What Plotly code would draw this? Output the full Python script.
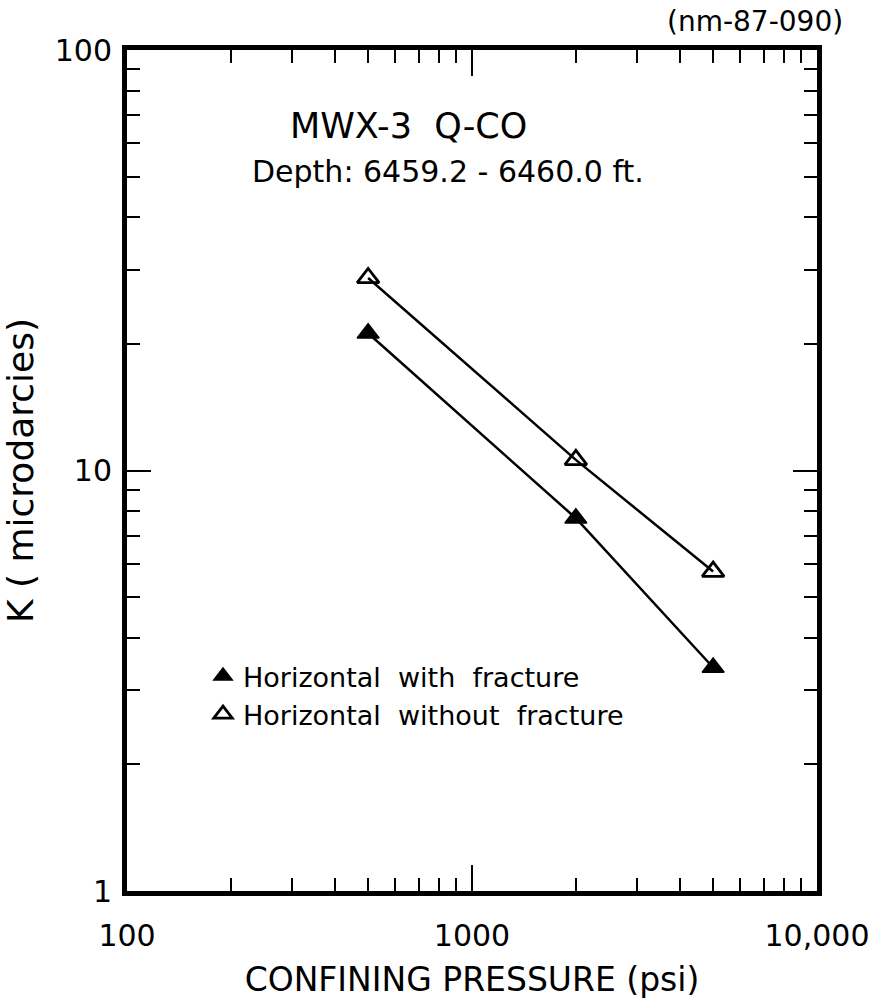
import plotly.graph_objects as go

# Confining pressure (psi) and permeability (microdarcies)
pressure = [500, 2000, 5000]
k_with_fracture = [21.2, 7.7, 3.4]
k_without_fracture = [28.7, 10.6, 5.75]

x_major = [100, 1000, 10000]
x_major_text = ["100", "1000", "10,000"]
x_minor = [200, 300, 400, 500, 600, 700, 800, 900,
           2000, 3000, 4000, 5000, 6000, 7000, 8000, 9000]
y_major = [1, 10, 100]
y_major_text = ["1", "10", "100"]
y_minor = [2, 3, 4, 5, 6, 7, 8, 9, 20, 30, 40, 50, 60, 70, 80, 90]

FONT = "DejaVu Sans, Liberation Sans, sans-serif"
NB = "\u00a0"

fig = go.Figure()

# fitted lines through each series
for ks in (k_without_fracture, k_with_fracture):
    fig.add_trace(go.Scatter(
        x=pressure, y=ks, mode="lines",
        line=dict(color="black", width=2.5),
        showlegend=False, hoverinfo="skip"))

fig.add_trace(go.Scatter(
    x=pressure, y=k_with_fracture, mode="markers",
    name=f"Horizontal{NB*2}with{NB*2}fracture",
    marker=dict(symbol="triangle-up", size=19, color="black",
                line=dict(color="black", width=1.5))))
fig.add_trace(go.Scatter(
    x=pressure, y=k_without_fracture, mode="markers",
    name=f"Horizontal{NB*2}without{NB*2}fracture",
    marker=dict(symbol="triangle-up-open", size=19, color="black",
                line=dict(color="black", width=2.8))))

axis_common = dict(
    type="log", showgrid=False, zeroline=False, automargin=False,
    showline=True, linecolor="black", linewidth=5, mirror="ticks",
    ticks="inside", tickcolor="black", tickwidth=2,
    ticklabeloverflow="allow",
    tickfont=dict(family=FONT, size=30, color="black"),
)

fig.update_xaxes(
    **axis_common,
    range=[2, 4], tickmode="array", tickvals=x_major, ticktext=x_major_text,
    ticklen=26, ticklabelstandoff=14,
    minor=dict(tickmode="array", tickvals=x_minor, ticks="inside",
               ticklen=13, tickwidth=2, tickcolor="black", showgrid=False),
    title=dict(text="CONFINING PRESSURE (psi)", standoff=18,
               font=dict(family=FONT, size=33, color="black")),
)
fig.update_yaxes(
    **axis_common,
    range=[0, 2], tickmode="array", tickvals=y_major, ticktext=y_major_text,
    ticklen=24, ticklabelstandoff=4,
    minor=dict(tickmode="array", tickvals=y_minor, ticks="inside",
               ticklen=13, tickwidth=2, tickcolor="black", showgrid=False),
    title=dict(text="K ( microdarcies)", standoff=22,
               font=dict(family=FONT, size=36, color="black")),
)

L, R, T, B = 127, 52, 50, 108
W, H = 869, 999
pw, ph = W - L - R, H - T - B


def px(x, y):
    """Figure pixel position -> paper coordinates of the plot area."""
    return (x - L) / pw, (H - B - y) / ph


annotations = []
ax, ay = px(408, 126)
annotations.append(dict(text="MWX-3  Q-CO", x=ax, y=ay, xref="paper", yref="paper",
                        showarrow=False, xanchor="center", yanchor="middle",
                        font=dict(family=FONT, size=35, color="black")))
ax, ay = px(250, 172)
annotations.append(dict(text="Depth: 6459.2 - 6460.0 ft.", x=ax, y=ay,
                        xref="paper", yref="paper", showarrow=False,
                        xanchor="left", yanchor="middle",
                        font=dict(family=FONT, size=30, color="black")))
ax, ay = px(845, 22)
annotations.append(dict(text="(nm-87-090)", x=ax, y=ay,
                        xref="paper", yref="paper", showarrow=False,
                        xanchor="right", yanchor="middle",
                        font=dict(family=FONT, size=28, color="black")))

lx, ly = px(203, 652)
fig.update_layout(
    width=W, height=H,
    margin=dict(l=L, r=R, t=T, b=B, autoexpand=False),
    paper_bgcolor="white", plot_bgcolor="white",
    font=dict(family=FONT, color="black"),
    annotations=annotations,
    legend=dict(x=lx, y=ly, xanchor="left", yanchor="top",
                bgcolor="rgba(0,0,0,0)", borderwidth=0,
                font=dict(family=FONT, size=27, color="black"),
                itemwidth=30, tracegroupgap=0),
)

fig.write_html("out.html")
